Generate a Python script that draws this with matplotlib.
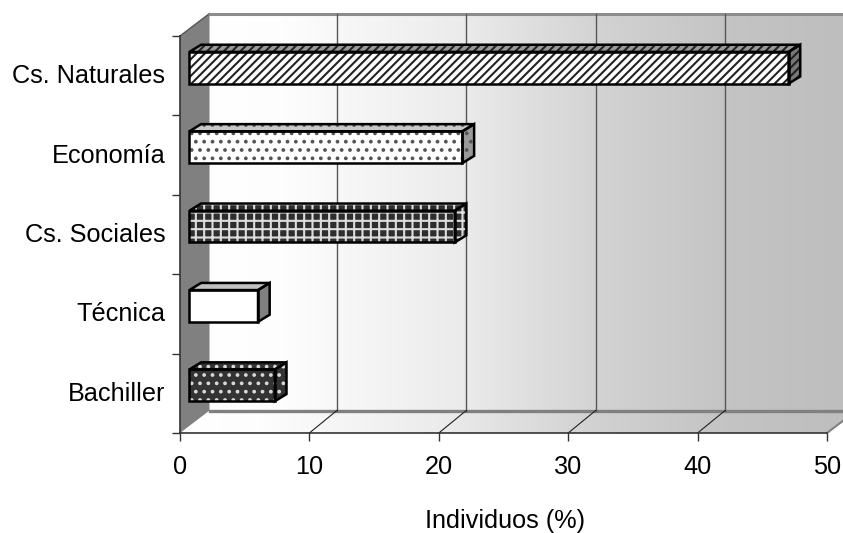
import numpy as np
import matplotlib
matplotlib.use("Agg")
import matplotlib.pyplot as plt
from matplotlib.colors import LinearSegmentedColormap
from matplotlib.patches import Polygon

categories = ["Bachiller", "Técnica", "Cs. Sociales", "Economía", "Cs. Naturales"]
values = [6.6, 5.3, 20.5, 21.1, 46.3]
x_ticks = [0, 10, 20, 30, 40, 50]

# one style per bar: front colour, hatch colour, hatch, top colour, side colour
styles = [
    ("#333333", "#d8d8d8", "..", "#333333", "#333333"),
    ("white", "white", "", "#c0c0c0", "#808080"),
    ("#2e2e2e", "#dddddd", "++", "#2e2e2e", "#2e2e2e"),
    ("white", "#555555", "..", "#c8c8c8", "#999999"),
    ("white", "#222222", "////", "#999999", "#777777"),
]

plt.rcParams["font.family"] = ["Liberation Sans", "DejaVu Sans"]
plt.rcParams["hatch.linewidth"] = 1.5

W, H = 843, 533
fig = plt.figure(figsize=(W / 100, H / 100), dpi=100)
ax = fig.add_axes([180 / W, 1 - 433 / H, 647 / W, 397 / H])

# depth of the box and of the bars, in data units
dx, dy = 2.28, 0.283
bar_dx, bar_dy = 0.9, 0.09
bar_x0 = 0.73
bar_h = 0.4
bar_off = 0.6


def poly(pts, **kw):
    kw.setdefault("clip_on", False)
    p = Polygon(pts, closed=True, **kw)
    ax.add_patch(p)
    return p


# wall + floor gradient
grey = LinearSegmentedColormap.from_list(
    "wall", [(0, "#ffffff"), (0.12, "#fdfdfd"), (0.4, "#ebebeb"),
             (0.62, "#d2d2d2"), (0.82, "#c4c4c4"), (1, "#bebebe")])
grad = np.linspace(0, 1, 256).reshape(1, -1)
wall = poly([(dx, dy), (52, dy), (52, 5 + dy), (dx, 5 + dy)], fc="none", ec="none")
im = ax.imshow(grad, cmap=grey, extent=(dx, 51.3, dy, 5 + dy), aspect="auto",
               origin="lower", zorder=1)
im.set_clip_box(fig.bbox)
im.set_clip_path(wall)
floor = poly([(0, 0), (50, 0), (50 + dx, dy), (dx, dy)], fc="none", ec="none")
im2 = ax.imshow(grad, cmap=grey, extent=(0, 51.3, 0, dy), aspect="auto",
                origin="lower", zorder=1)
im2.set_clip_box(fig.bbox)
im2.set_clip_path(floor)

# side wall
poly([(0, 0), (dx, dy), (dx, 5 + dy), (0, 5)], fc="#808080", ec="none", zorder=2)
ax.plot([0, dx], [5, 5 + dy], color="#555555", lw=1, clip_on=False, zorder=3)

# box lines
ax.plot([dx, 51.3], [5 + dy, 5 + dy], color="#8c8c8c", lw=2.2, clip_on=False, zorder=3)
ax.plot([dx, 51.3], [dy, dy], color="#808080", lw=2.4, clip_on=False, zorder=3)
ax.plot([50, 50 + dx * 0.55], [0, dy * 0.55], color="#808080", lw=1.5, clip_on=False, zorder=3)
for t in x_ticks[1:-1]:
    ax.plot([t + dx * 0.93, t + dx * 0.93], [dy, 5 + dy], color="#555555", lw=1, zorder=3, clip_on=False)
    ax.plot([t, t + dx * 0.93], [0, dy], color="#222222", lw=0.8, zorder=3, clip_on=False)

# bars
for i, (val, st) in enumerate(zip(values, styles)):
    front, hatch_col, hatch, top, side = st
    x0, x1 = bar_x0, bar_x0 + val
    y0, y1 = i + bar_off - bar_h / 2, i + bar_off + bar_h / 2
    faces = [
        ([(x0, y0), (x1, y0), (x1, y1), (x0, y1)], front),
        ([(x0, y1), (x1, y1), (x1 + bar_dx, y1 + bar_dy), (x0 + bar_dx, y1 + bar_dy)], top),
        ([(x1, y0), (x1 + bar_dx, y0 + bar_dy), (x1 + bar_dx, y1 + bar_dy), (x1, y1)], side),
    ]
    for pts, col in faces:
        poly(pts, fc=col, ec=hatch_col, hatch=hatch, lw=0, zorder=4)
        poly(pts, fc="none", ec="black", lw=1.8, joinstyle="miter", zorder=5)

ax.set_xlim(0, 50)
ax.set_ylim(0, 5)
ax.set_xticks(x_ticks)
ax.set_yticks(range(6))
ax.set_yticklabels([])
# labels sit a little above the middle of each band
ax.set_yticks(np.arange(5) + 0.525, categories, minor=True)
ax.tick_params(axis="y", which="major", length=6, width=1, color="#333333")
ax.tick_params(axis="y", which="minor", length=0, pad=10.5, labelsize=18.2)
ax.tick_params(axis="x", length=6, width=1, color="#333333", labelsize=18.2, pad=10)
ax.set_xlabel("Individuos (%)", fontsize=18.2)
ax.xaxis.set_label_coords(0.503, -0.192)
for s in ("top", "right"):
    ax.spines[s].set_visible(False)
for s in ("left", "bottom"):
    ax.spines[s].set_color("#333333")
    ax.spines[s].set_linewidth(1.2)
    ax.spines[s].set_zorder(6)
ax.patch.set_visible(False)

fig.savefig("out.png", dpi=100)
